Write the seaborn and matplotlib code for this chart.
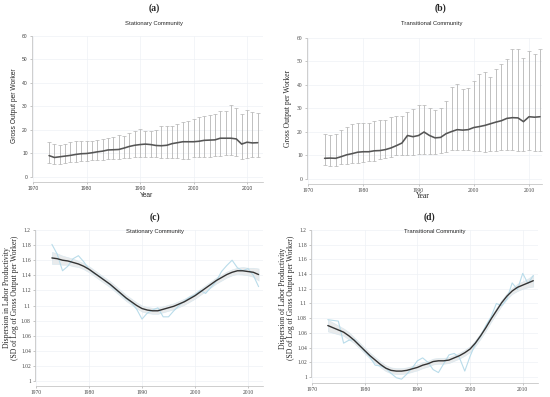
import numpy as np
import pandas as pd
import seaborn as sns
import matplotlib.pyplot as plt

years = list(range(1973, 2013))

# (a) stationary community: mean and range of gross output per worker
stat_mean = [9.1, 8.3, 8.6, 8.9, 9.2, 9.6, 9.9, 10.0, 10.3, 10.7,
             11.0, 11.5, 11.6, 11.7, 12.3, 13.0, 13.5, 13.8, 14.0, 13.8,
             13.4, 13.3, 13.5, 14.2, 14.6, 15.0, 15.0, 15.0, 15.2, 15.6,
             15.7, 15.8, 16.5, 16.5, 16.5, 16.2, 14.0, 14.8, 14.5, 14.6]
stat_upper = [15.0, 14.2, 13.7, 14.2, 15.0, 15.3, 15.5, 15.2, 15.3, 15.9,
              16.2, 16.7, 17.2, 17.7, 17.6, 18.8, 19.5, 20.5, 19.6, 19.4,
              20.2, 21.5, 21.7, 21.8, 22.6, 23.5, 24.0, 24.5, 25.5, 26.0,
              26.2, 26.8, 28.0, 28.2, 30.7, 29.5, 26.9, 28.4, 27.7, 27.3]
stat_lower = [6.0, 5.6, 5.7, 5.9, 6.2, 6.5, 6.8, 7.0, 7.2, 7.3,
              7.4, 7.5, 7.6, 7.8, 8.0, 8.2, 8.3, 8.5, 8.5, 8.4,
              8.3, 8.2, 8.1, 8.0, 8.0, 7.8, 7.7, 8.5, 8.5, 8.6,
              8.7, 8.8, 9.0, 9.2, 9.5, 9.0, 7.8, 8.2, 8.3, 8.3]

# (b) transitional community
trans_mean = [8.8, 8.9, 8.8, 9.5, 10.3, 10.8, 11.4, 11.6, 11.6, 12.0,
              12.1, 12.5, 13.2, 14.2, 15.3, 18.5, 18.0, 18.5, 20.0, 18.5,
              17.5, 17.7, 19.3, 20.2, 21.0, 20.8, 21.0, 21.9, 22.3, 22.8,
              23.5, 24.2, 24.8, 25.8, 26.1, 26.0, 24.4, 26.5, 26.3, 26.5]
trans_upper = [19.2, 18.8, 19.2, 21.0, 22.0, 23.4, 24.0, 23.8, 24.0, 24.5,
               25.0, 25.3, 26.3, 26.6, 26.8, 28.4, 29.9, 31.4, 31.7, 30.0,
               29.3, 30.1, 33.0, 39.2, 40.6, 38.5, 38.6, 41.5, 44.8, 45.4,
               43.2, 47.0, 49.0, 51.0, 55.5, 55.3, 51.5, 54.3, 53.1, 55.4]
trans_lower = [5.8, 5.5, 5.6, 6.2, 6.3, 6.7, 7.0, 7.4, 7.5, 7.8,
               8.5, 9.0, 9.5, 10.0, 10.0, 10.2, 10.4, 10.6, 10.8, 10.6,
               10.8, 11.0, 11.5, 12.3, 12.5, 12.5, 12.3, 11.8, 11.8, 11.7,
               11.8, 12.0, 12.2, 12.3, 12.5, 12.0, 11.8, 12.2, 12.0, 11.8]

# (c) stationary community dispersion: raw and smoothed
stat_sd_raw = [1.181, 1.168, 1.146, 1.152, 1.162, 1.166, 1.158, 1.148, 1.142, 1.139,
               1.133, 1.127, 1.121, 1.115, 1.109, 1.104, 1.095, 1.082, 1.090, 1.094,
               1.097, 1.085, 1.085, 1.093, 1.100, 1.106, 1.111, 1.114, 1.120, 1.116,
               1.124, 1.132, 1.145, 1.153, 1.160, 1.150, 1.146, 1.149, 1.140, 1.125]
stat_sd_fit = [1.163, 1.162, 1.160, 1.159, 1.157, 1.155, 1.152, 1.148, 1.143, 1.138,
               1.133, 1.128, 1.122, 1.116, 1.110, 1.105, 1.100, 1.096, 1.094, 1.093,
               1.093, 1.095, 1.097, 1.099, 1.102, 1.105, 1.109, 1.113, 1.118, 1.123,
               1.128, 1.133, 1.137, 1.141, 1.144, 1.146, 1.146, 1.145, 1.144, 1.141]
stat_sd_band = [0.008, 0.007, 0.006, 0.005, 0.005, 0.004, 0.004, 0.004, 0.004, 0.004,
                0.004, 0.004, 0.004, 0.004, 0.004, 0.004, 0.004, 0.004, 0.004, 0.004,
                0.004, 0.004, 0.004, 0.004, 0.004, 0.004, 0.004, 0.004, 0.004, 0.004,
                0.004, 0.004, 0.004, 0.004, 0.004, 0.004, 0.005, 0.005, 0.006, 0.008]

# (d) transitional community dispersion
trans_sd_raw = [1.078, 1.077, 1.076, 1.046, 1.050, 1.051, 1.043, 1.035, 1.027, 1.016,
                1.015, 1.012, 1.005, 0.999, 0.997, 1.004, 1.012, 1.022, 1.026, 1.020,
                1.010, 1.006, 1.018, 1.030, 1.032, 1.026, 1.008, 1.028, 1.045, 1.055,
                1.070, 1.082, 1.100, 1.097, 1.106, 1.128, 1.119, 1.141, 1.127, 1.138]
trans_sd_fit = [1.070, 1.067, 1.064, 1.061, 1.056, 1.050, 1.043, 1.036, 1.029, 1.023,
                1.017, 1.012, 1.009, 1.008, 1.008, 1.009, 1.011, 1.013, 1.016, 1.018,
                1.021, 1.022, 1.022, 1.023, 1.026, 1.029, 1.033, 1.038, 1.046, 1.056,
                1.067, 1.079, 1.090, 1.101, 1.110, 1.117, 1.122, 1.125, 1.128, 1.131]
trans_sd_band = stat_sd_band

dispersion_ticks = [1, 1.02, 1.04, 1.06, 1.08, 1.1, 1.12, 1.14, 1.16, 1.18, 1.2]
dispersion_labels = ['1', '1.02', '1.04', '1.06', '1.08', '1.1', '1.12', '1.14', '1.16', '1.18', '1.2']

sns.set_style('white')
SERIF = 'Liberation Serif'
SANS = 'Liberation Sans'

W, H = 550, 397
fig = plt.figure(figsize=(W / 100, H / 100), dpi=100)


def px_axes(left, right, top, bottom):
    # axes placed with pixel edges of the reference
    return fig.add_axes([left / W, 1 - bottom / H, (right - left) / W, (bottom - top) / H])


def px_text(x, y, s, **kw):
    fig.text(x / W, 1 - y / H, s, ha='center', va='center', **kw)


def style_axes(ax, xlim, ylim, ybounds, yticks, ylabels=None, family=SERIF):
    ax.set_xlim(*xlim)
    ax.set_ylim(*ylim)
    ax.set_xticks([1970, 1980, 1990, 2000, 2010])
    ax.set_yticks(yticks)
    if ylabels is not None:
        ax.set_yticklabels(ylabels)
    for lab in ax.get_xticklabels() + ax.get_yticklabels():
        lab.set_family(family)
        lab.set_fontsize(4 if family == SERIF else 3.6)
        lab.set_color('#444444')
    ax.tick_params(axis='both', length=1.5, width=0.4, pad=1.5, color='#999999',
                   left=True, bottom=True)
    ax.grid(True, color='#eef2f5', linewidth=0.5)
    ax.set_axisbelow(True)
    sns.despine(ax=ax)
    for side in ['left', 'bottom']:
        ax.spines[side].set_color('#bbbbbb')
        ax.spines[side].set_linewidth(0.5)
    ax.spines['left'].set_bounds(*ybounds)
    ax.spines['bottom'].set_bounds(1970, xlim[1])
    ax.set_xlabel('')
    ax.set_ylabel('')


def draw_output(ax, mean, lower, upper):
    mean = np.array(mean)
    err = [mean - np.array(lower), np.array(upper) - mean]
    ax.errorbar(years, mean, yerr=err, fmt='none', ecolor='#b5b5b5',
                elinewidth=0.6, capsize=1.3, capthick=0.5, zorder=2)
    df = pd.DataFrame({'year': years, 'value': mean})
    sns.lineplot(data=df, x='year', y='value', ax=ax, color='#555555',
                 linewidth=1.15, zorder=3)


def draw_dispersion(ax, raw, fit, band):
    fit = np.array(fit)
    band = np.array(band)
    ax.fill_between(years, fit - band, fit + band, color='#e4e6e8', alpha=0.8,
                    linewidth=0.4, edgecolor='#cfe3ec', zorder=1)
    df = pd.DataFrame({'year': years, 'raw': raw, 'fit': fit})
    sns.lineplot(data=df, x='year', y='raw', ax=ax, color='#b9dcea',
                 linewidth=0.8, zorder=2)
    sns.lineplot(data=df, x='year', y='fit', ax=ax, color='#333333',
                 linewidth=1.0, zorder=3)


# (a)
ax_a = px_axes(32, 263, 36, 182)
draw_output(ax_a, stat_mean, stat_lower, stat_upper)
style_axes(ax_a, (1969.81, 2012.99), (-2.13, 60), (0, 60), list(range(0, 61, 10)), family=SANS)

# (b)
ax_b = px_axes(307, 542, 38, 184)
draw_output(ax_b, trans_mean, trans_lower, trans_upper)
style_axes(ax_b, (1969.82, 2012.35), (-2.13, 60), (0, 60), list(range(0, 61, 10)))

# (c)
ax_c = px_axes(35, 263, 230, 386)
draw_dispersion(ax_c, stat_sd_raw, stat_sd_fit, stat_sd_band)
style_axes(ax_c, (1969.81, 2012.83), (0.9934, 1.2), (1, 1.2), dispersion_ticks, dispersion_labels)

# (d)
ax_d = px_axes(311, 538, 230, 383)
draw_dispersion(ax_d, trans_sd_raw, trans_sd_fit, trans_sd_band)
style_axes(ax_d, (1969.81, 2012.9), (0.9918, 1.2), (1, 1.2), dispersion_ticks, dispersion_labels)

# panel letters and titles
px_text(154, 8, '(a)', family=SERIF, fontsize=7, fontweight='bold')
px_text(154, 23, 'Stationary Community', family=SANS, fontsize=4.2)
px_text(441, 8, '(b)', family=SERIF, fontsize=7, fontweight='bold')
px_text(432, 23, 'Transitional Community', family=SANS, fontsize=4.2)
px_text(155, 217, '(c)', family=SERIF, fontsize=7, fontweight='bold')
px_text(155, 231, 'Stationary Community', family=SANS, fontsize=4.2)
px_text(429, 217, '(d)', family=SERIF, fontsize=7, fontweight='bold')
px_text(435, 231, 'Transitional Community', family=SANS, fontsize=4.2)

# axis labels
px_text(147, 195, 'Year', family=SANS, fontsize=4.8)
px_text(423, 196, 'Year', family=SERIF, fontsize=5.5)
px_text(14, 106, 'Gross Output per Worker', family=SANS, fontsize=4.8, rotation=90)
px_text(288, 108, 'Gross Output per Worker', family=SERIF, fontsize=5.5, rotation=90)
px_text(11, 298, 'Dispersion in Labor Productivity\n(SD of Log of Gross Output per Worker)',
        family=SERIF, fontsize=5.5, rotation=90, linespacing=0.95)
px_text(287, 298, 'Dispersion of Labor Productivity\n(SD of Log of Gross Output per Worker)',
        family=SERIF, fontsize=5.5, rotation=90, linespacing=0.95)

fig.savefig('out.png', dpi=100)
